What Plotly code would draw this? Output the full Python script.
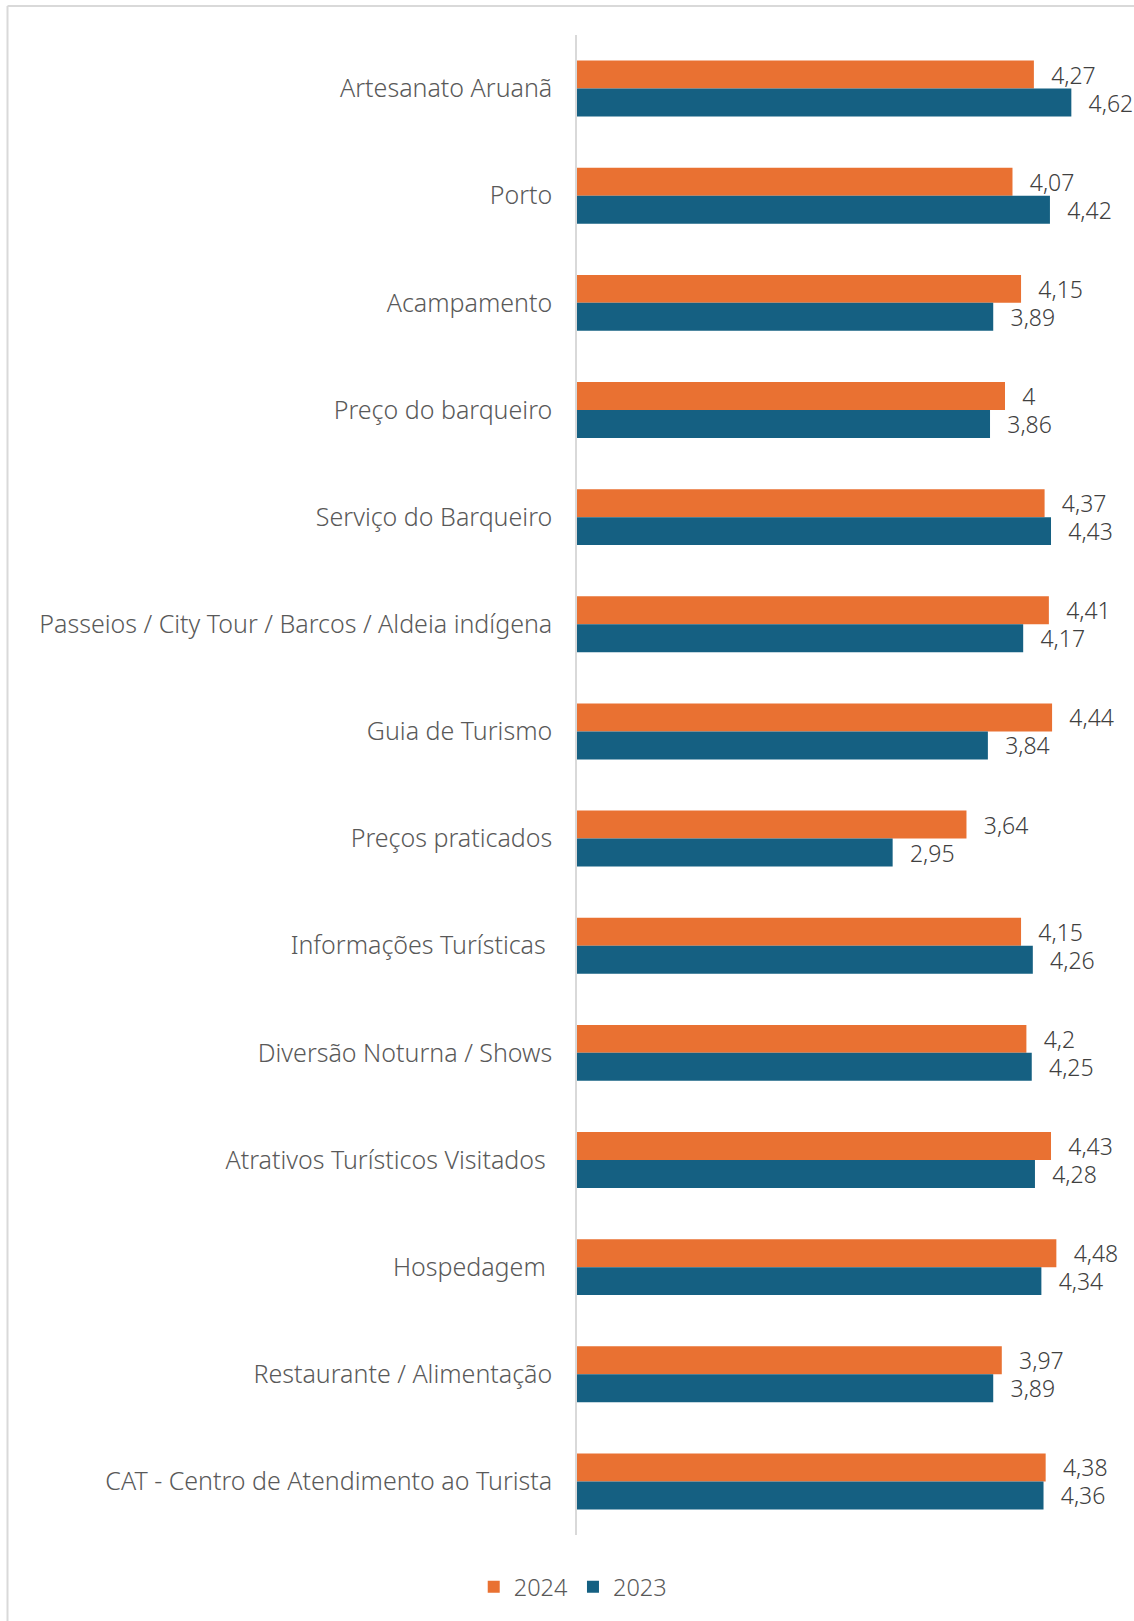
import plotly.graph_objects as go

categories = [
    "Artesanato Aruanã",
    "Porto",
    "Acampamento",
    "Preço do barqueiro",
    "Serviço do Barqueiro",
    "Passeios / City Tour / Barcos / Aldeia indígena",
    "Guia de Turismo",
    "Preços praticados",
    "Informações Turísticas\u00a0",
    "Diversão Noturna / Shows",
    "Atrativos Turísticos Visitados\u00a0",
    "Hospedagem\u00a0",
    "Restaurante / Alimentação",
    "CAT - Centro de Atendimento ao Turista",
]
values_2024 = [4.27, 4.07, 4.15, 4.00, 4.37, 4.41, 4.44, 3.64, 4.15, 4.20, 4.43, 4.48, 3.97, 4.38]
values_2023 = [4.62, 4.42, 3.89, 3.86, 4.43, 4.17, 3.84, 2.95, 4.26, 4.25, 4.28, 4.34, 3.89, 4.36]
series_names = ["2024", "2023"]

ORANGE = "#E97132"
BLUE = "#156082"
FONT = "Noto Sans"

fig = go.Figure()
for name, vals, col in [(series_names[0], values_2024, ORANGE), (series_names[1], values_2023, BLUE)]:
    fig.add_trace(go.Bar(
        name=name, y=categories, x=vals, orientation="h",
        marker=dict(color=col, line=dict(width=0)),
        texttemplate="\u00a0\u00a0\u200a%{x:.2~f}",
        textposition="outside", cliponaxis=False, constraintext="none",
        textfont=dict(family=FONT, size=23, color="#404040", weight=300),
        hoverinfo="skip",
    ))

fig.update_layout(
    width=1134, height=1621,
    margin=dict(l=577, r=22, t=35, b=83),
    paper_bgcolor="white", plot_bgcolor="white",
    barmode="group", bargap=0.478, bargroupgap=0,
    separators=",.",
    font=dict(family=FONT, size=25, color="#595959", weight=300),
    showlegend=True,
    legend=dict(orientation="h", x=-0.008, xanchor="center", y=-0.0346, yanchor="middle",
                font=dict(family=FONT, size=23.5, color="#595959", weight=300), traceorder="normal"),
    xaxis=dict(range=[0, 5], visible=False, showgrid=False, zeroline=False),
    yaxis=dict(autorange="reversed", showline=True, linecolor="#D9D9D9", linewidth=1.5,
               showgrid=False, ticks="", ticklabelstandoff=18,
               tickfont=dict(family=FONT, size=25, color="#595959", weight=300)),
    shapes=[
        dict(type="line", xref="paper", yref="paper", x0=-1.0645, x1=1.1, y0=1.0193, y1=1.0193,
             line=dict(color="#D9D9D9", width=2)),
        dict(type="line", xref="paper", yref="paper", x0=-1.0645, x1=-1.0645, y0=1.0193, y1=-0.1,
             line=dict(color="#D9D9D9", width=2)),
    ],
)

fig.write_html("out.html", config={"displayModeBar": False},
               post_script="document.body.style.margin='0';document.body.style.overflow='hidden';")
